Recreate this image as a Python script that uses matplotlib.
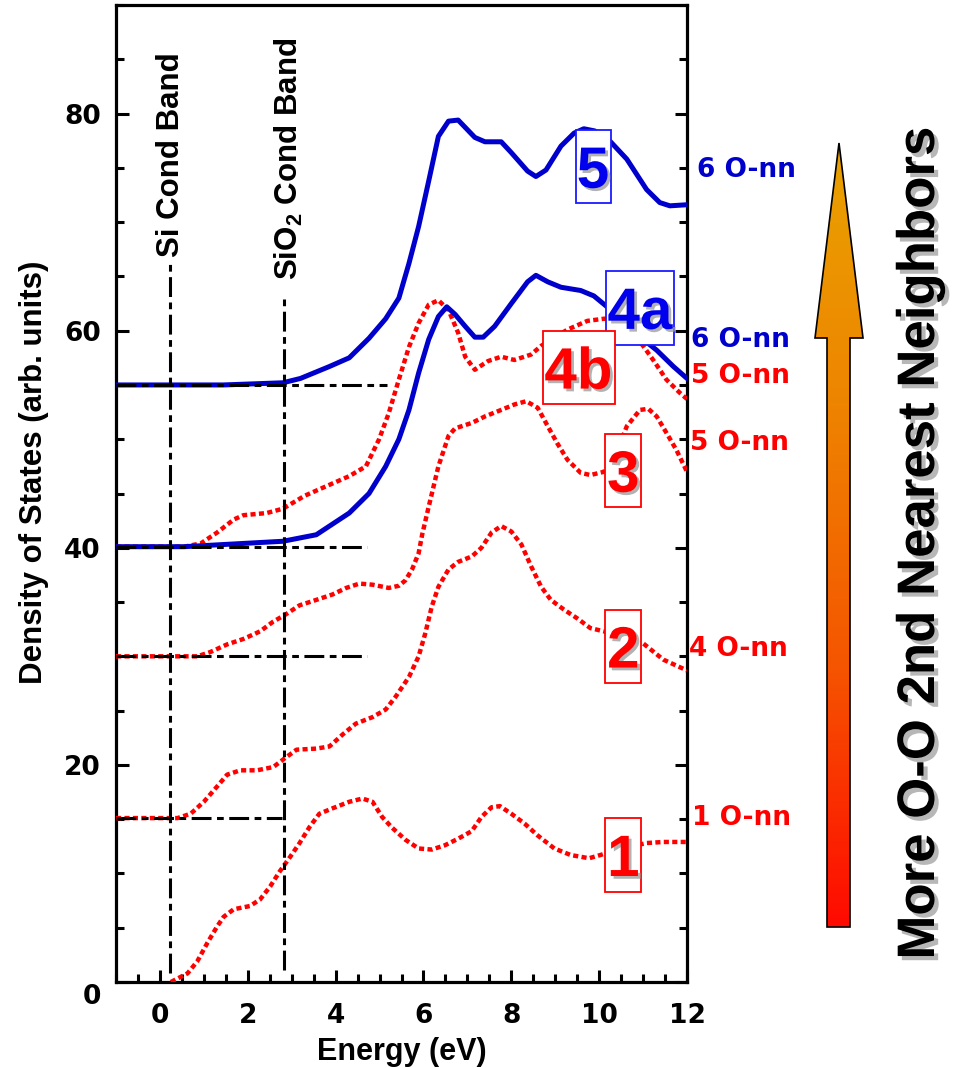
import matplotlib
matplotlib.use("Agg")
import matplotlib.pyplot as plt
import numpy as np
from matplotlib.patches import Polygon, Rectangle
from matplotlib.ticker import MultipleLocator, FuncFormatter
from matplotlib.colors import LinearSegmentedColormap
import matplotlib.patheffects as pe

plt.rcParams['mathtext.fontset'] = 'custom'
plt.rcParams['mathtext.rm'] = 'Liberation Sans:bold'
plt.rcParams['mathtext.it'] = 'Liberation Sans:bold'
plt.rcParams['mathtext.bf'] = 'Liberation Sans:bold'

# ---------------- data ----------------
E5 = [-1.0, 1.45, 2.8, 3.2, 3.56, 3.86, 4.31, 4.76, 5.14, 5.44, 5.67, 5.89, 6.12, 6.34, 6.57, 6.79,
      7.17, 7.40, 7.77, 8.0, 8.37, 8.56, 8.79, 9.13, 9.43, 9.65, 9.9, 10.26, 10.63, 11.08, 11.38, 11.61, 12.0]
V5 = [55.0, 55.0, 55.2, 55.6, 56.2, 56.7, 57.5, 59.3, 61.1, 63.0, 66.2, 69.6, 73.8, 77.9, 79.3, 79.4,
      77.8, 77.4, 77.4, 76.4, 74.7, 74.2, 74.8, 77.0, 78.2, 78.6, 78.4, 77.4, 75.8, 73.0, 71.8, 71.5, 71.6]

E4a = [-1.0, 0.55, 2.8, 3.56, 3.86, 4.31, 4.76, 5.14, 5.44, 5.67, 5.89, 6.12, 6.34, 6.53, 6.72, 6.95,
       7.17, 7.36, 7.62, 8.0, 8.37, 8.56, 8.83, 9.13, 9.58, 9.88, 10.18, 10.6, 11.0, 11.31, 11.69, 12.0]
V4a = [40.1, 40.1, 40.6, 41.2, 42.0, 43.2, 45.0, 47.5, 50.0, 52.7, 56.1, 59.2, 61.3, 62.2, 61.5, 60.4,
       59.4, 59.4, 60.4, 62.5, 64.5, 65.1, 64.5, 64.0, 63.7, 63.2, 62.2, 60.5, 59.2, 58.2, 56.7, 55.6]

E4b = [-1.0, 0.55, 0.93, 1.30, 1.68, 1.90, 2.43, 2.8, 3.3, 3.86, 4.31, 4.69, 4.99, 5.21, 5.44, 5.67,
       5.89, 6.12, 6.34, 6.57, 6.79, 6.95, 7.17, 7.47, 7.77, 8.07, 8.45, 8.68, 9.28, 9.73, 10.11, 10.5,
       11.0, 11.23, 11.53, 11.83, 12.0]
V4b = [40.1, 40.1, 40.4, 41.4, 42.6, 43.0, 43.2, 43.6, 44.8, 45.8, 46.6, 47.5, 50.0, 52.4, 55.5, 58.5,
       60.7, 62.4, 62.8, 61.9, 59.8, 57.6, 56.4, 57.2, 57.6, 57.3, 57.8, 58.6, 60.1, 60.9, 61.1, 61.0,
       58.6, 57.3, 55.5, 54.3, 53.7]

E3 = [-1.0, 0.85, 1.15, 1.53, 1.90, 2.28, 2.58, 2.84, 3.18, 3.56, 3.93, 4.24, 4.54, 4.84, 5.21, 5.44,
      5.59, 5.74, 5.89, 5.97, 6.12, 6.34, 6.57, 6.72, 7.10, 7.40, 7.77, 8.07, 8.34, 8.60, 8.83, 9.05,
      9.28, 9.58, 9.80, 10.11, 10.4, 10.63, 10.93, 11.12, 11.31, 11.53, 11.76, 12.0]
V3 = [30.0, 30.0, 30.4, 31.1, 31.6, 32.3, 33.2, 33.8, 34.7, 35.2, 35.7, 36.3, 36.7, 36.6, 36.3, 36.5,
      37.0, 38.0, 39.5, 41.2, 43.8, 47.5, 50.3, 51.0, 51.5, 52.1, 52.7, 53.2, 53.5, 52.9, 51.2, 49.6,
      48.1, 46.9, 46.7, 47.0, 48.8, 51.2, 52.7, 52.8, 52.1, 50.6, 49.0, 47.0]

E2 = [-1.0, 0.40, 0.70, 1.0, 1.30, 1.53, 1.83, 2.21, 2.58, 2.84, 3.11, 3.56, 3.86, 4.16, 4.46, 4.84,
      5.14, 5.37, 5.67, 5.89, 6.04, 6.19, 6.34, 6.57, 6.79, 7.10, 7.32, 7.55, 7.77, 8.0, 8.23, 8.45,
      8.68, 8.90, 9.20, 9.50, 9.80, 10.11, 10.5, 11.0, 11.46, 12.0]
V2 = [15.1, 15.1, 15.5, 16.6, 18.0, 19.1, 19.5, 19.5, 19.8, 20.6, 21.4, 21.5, 21.7, 22.8, 23.8, 24.4,
      25.1, 26.3, 28.1, 30.0, 32.1, 34.6, 36.4, 38.0, 38.7, 39.2, 40.0, 41.4, 42.0, 41.5, 40.3, 38.3,
      36.4, 35.2, 34.3, 33.5, 32.6, 32.3, 31.8, 31.2, 29.7, 28.7]

E1 = [0.25, 0.63, 0.85, 1.08, 1.30, 1.45, 1.68, 2.05, 2.28, 2.51, 2.73, 2.96, 3.18, 3.41, 3.63, 3.93,
      4.31, 4.61, 4.84, 5.06, 5.29, 5.59, 5.89, 6.19, 6.49, 6.79, 7.10, 7.32, 7.55, 7.74, 8.0, 8.30,
      8.60, 8.98, 9.35, 9.77, 10.03, 10.5, 11.08, 11.46, 12.0]
V1 = [0.0, 0.8, 1.9, 3.6, 5.1, 6.0, 6.7, 7.0, 7.6, 8.8, 10.2, 11.5, 12.8, 14.3, 15.5, 16.0,
      16.6, 16.9, 16.6, 15.2, 14.2, 13.1, 12.3, 12.2, 12.6, 13.2, 13.9, 15.2, 16.1, 16.2, 15.5, 14.6,
      13.5, 12.3, 11.7, 11.4, 11.7, 12.3, 12.8, 12.9, 12.9]

# baselines (dash-dot) : level and right end
base_levels = [55.0, 40.1, 30.0, 15.1]
base_ends = [5.17, 4.72, 4.72, 2.78]

# band edges
band_names = ["Si Cond Band", "SiO$_2$ Cond Band"]
band_E = [0.22, 2.83]
band_top = [66.5, 63.0]
band_bottom = [0.8, 1.1]

# box labels (centre of box)
box_text = ["5", "4a", "4b", "3", "2", "1"]
box_E = [9.86, 10.93, 9.53, 10.55, 10.55, 10.55]
box_V = [75.1, 62.1, 56.6, 47.1, 30.9, 11.7]
box_wpx = [35, 68, 72, 36, 36, 36]

# right-side labels
nn_text = ["6 O-nn", "6 O-nn", "5 O-nn", "5 O-nn", "4 O-nn", "1 O-nn"]
nn_E = [12.23, 12.08, 12.08, 12.06, 12.04, 12.11]
nn_V = [74.2, 58.5, 55.2, 49.0, 30.0, 14.5]

xticks = [0, 2, 4, 6, 8, 10, 12]
yticks = [0, 20, 40, 60, 80]

BLUE = "#0000cc"
RED = "#ff0000"
BF = "Liberation Sans"

# ---------------- figure ----------------
W, H = 959, 1068
fig = plt.figure(figsize=(W / 100, H / 100), dpi=100)
AXW, AXH = 571, 977
ax = fig.add_axes([116 / W, 86 / H, AXW / W, AXH / H])
ax.set_xlim(-1, 12)
ax.set_ylim(0, 90)
pxE = AXW / 13.0
pxV = AXH / 90.0

red_kw = dict(color=RED, lw=3.2, ls=(0, (1.15, 0.75)), dash_capstyle='butt')
blue_kw = dict(color=BLUE, lw=3.6, solid_capstyle='round', solid_joinstyle='round')

ax.plot(E1, V1, **red_kw, zorder=3)
ax.plot(E2, V2, **red_kw, zorder=3)
ax.plot(E3, V3, **red_kw, zorder=3)
ax.plot(E4b, V4b, **red_kw, zorder=3)
ax.plot(E4a, V4a, **blue_kw, zorder=3)
ax.plot(E5, V5, **blue_kw, zorder=3)

dd = (0, (6.5, 1.8, 2.2, 1.8))
for lev, end in zip(base_levels, base_ends):
    ax.plot([-1, end], [lev, lev], color='black', lw=2.2, ls=dd, zorder=4)
for e, t, b in zip(band_E, band_top, band_bottom):
    ax.plot([e, e], [b, t], color='black', lw=2.2, ls=dd, zorder=4)

ax.text(0.25, 66.8, band_names[0], rotation=90, ha='center', va='bottom',
        fontsize=22.5, fontweight='bold', family=BF, zorder=5)
ax.text(2.93, 64.7, band_names[1], rotation=90, ha='center', va='bottom',
        fontsize=22.5, fontweight='bold', family=BF, zorder=5)

shadow = [pe.SimplePatchShadow(offset=(2, -2), shadow_rgbFace='#999999', alpha=0.75), pe.Normal()]
box_h = 73.4 / pxV
for t, e, v, wpx in zip(box_text, box_E, box_V, box_wpx):
    blue = t in ("5", "4a")
    ec = "#1a1aff" if blue else RED
    tc = "#0000ee" if blue else RED
    bw = wpx / pxE
    ax.add_patch(Rectangle((e - bw / 2, v - box_h / 2), bw, box_h, facecolor='white',
                           edgecolor=ec, lw=1.3, zorder=6))
    ax.text(e, v - 21 / pxV, t, ha='center', va='baseline', fontsize=42, fontweight='bold',
            family=BF, color=tc, zorder=7, path_effects=shadow)

for t, e, v in zip(nn_text, nn_E, nn_V):
    c = BLUE if t.startswith("6") else RED
    ax.text(e, v, t, ha='left', va='baseline', fontsize=19, fontweight='bold',
            family='DejaVu Sans', color=c, clip_on=False)

# axes styling
for s in ax.spines.values():
    s.set_linewidth(2.3)
ax.set_xticks(xticks)
ax.set_yticks(yticks)
ax.xaxis.set_minor_locator(MultipleLocator(0.5))
ax.yaxis.set_minor_locator(MultipleLocator(5))
ax.tick_params(which='both', direction='in', width=2.2, top=False, right=True)
ax.tick_params(which='major', length=9)
ax.tick_params(which='minor', length=5.5)
ax.tick_params(axis='x', which='major', pad=15)
ax.tick_params(axis='y', which='major', pad=11)
ax.yaxis.set_major_formatter(FuncFormatter(lambda v, p: "" if v == 0 else f"{v:.0f}"))
for lab in ax.get_xticklabels() + ax.get_yticklabels():
    lab.set_fontfamily('DejaVu Sans')
    lab.set_fontweight('bold')
    lab.set_fontsize(19)
fig.text(101 / W, (H - 997) / H, "0", ha='right', va='center', fontsize=19,
         fontweight='bold', family='DejaVu Sans')

ax.set_xlabel("Energy (eV)", fontsize=22, fontweight='bold', family=BF)
ax.xaxis.set_label_coords(0.5, -0.056)
ax.xaxis.label.set_va('top')
ax.set_ylabel("Density of States (arb. units)", fontsize=22.5, fontweight='bold', family=BF)
ax.yaxis.set_label_coords(-0.118, 0.522)

# ---------------- gradient arrow + caption ----------------
ov = fig.add_axes([0, 0, 1, 1], facecolor='none')
ov.set_axis_off()
arrow_pts = np.array([(827, 927), (850, 927), (850, 338), (863, 338), (839, 143), (815, 338), (827, 338)])
poly = Polygon(arrow_pts, closed=True, facecolor='none', edgecolor='black', lw=1.2, zorder=3)
ov.add_patch(poly)
cmap = LinearSegmentedColormap.from_list("arr", ["#ff0a00", "#f55500", "#ee8400", "#e9a200"])
grad = np.linspace(0, 1, 256).reshape(-1, 1)
im = ov.imshow(grad, cmap=cmap, extent=(815, 863, 927, 143), origin='lower', aspect='auto', zorder=2)
im.set_clip_path(poly)
ov.set_xlim(0, W)
ov.set_ylim(H, 0)
ov.text(920, 544, "More O-O 2nd Nearest Neighbors", rotation=90, ha='center', va='center',
        fontsize=38, fontweight='bold', family=BF,
        path_effects=[pe.SimplePatchShadow(offset=(3, -3), shadow_rgbFace='#999999', alpha=0.7), pe.Normal()])

fig.savefig("out.png", dpi=100)
